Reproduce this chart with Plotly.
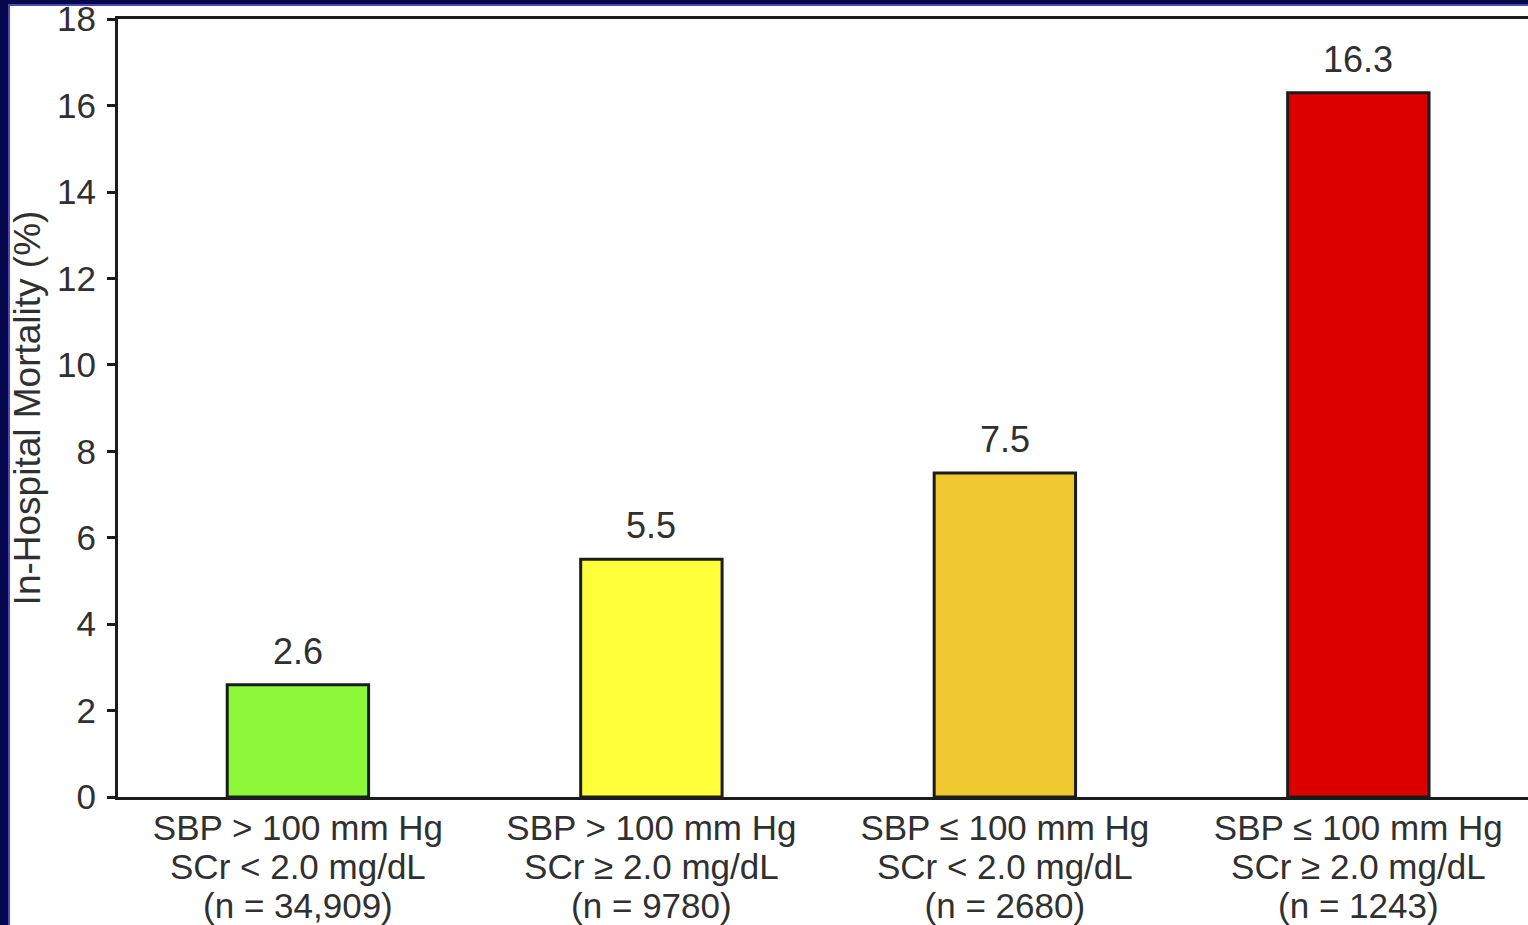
import plotly.graph_objects as go

# In-hospital mortality by admission SBP / SCr group
sbp_lines = ["SBP > 100 mm Hg", "SBP > 100 mm Hg", "SBP \u2264 100 mm Hg", "SBP \u2264 100 mm Hg"]
scr_lines = ["SCr < 2.0 mg/dL", "SCr \u2265 2.0 mg/dL", "SCr < 2.0 mg/dL", "SCr \u2265 2.0 mg/dL"]
n_lines = ["(n = 34,909)", "(n = 9780)", "(n = 2680)", "(n = 1243)"]
mortality = [2.6, 5.5, 7.5, 16.3]
bar_colors = ["#8df83a", "#ffff3a", "#f0c930", "#dd0000"]
y_ticks = [0, 2, 4, 6, 8, 10, 12, 14, 16, 18]

W, H = 1528, 925
ML, MR, MT, MB = 118, 0, 19, 128
FONT = "Liberation Sans, Arial, sans-serif"
TXT = "#303030"

positions = list(range(len(mortality)))
tick_text = [
    "<br>".join(f"<span style='font-size:35px'>{s}</span>" for s in (a, b, c))
    for a, b, c in zip(sbp_lines, scr_lines, n_lines)
]

fig = go.Figure(
    go.Bar(
        x=positions,
        y=mortality,
        width=0.4,
        marker=dict(color=bar_colors, line=dict(color="#1c1c1c", width=3)),
        hoverinfo="skip",
    )
)

# value labels above each bar
for xp, v in zip(positions, mortality):
    fig.add_annotation(
        x=xp, y=v, text=f"{v:.1f}", showarrow=False, yanchor="bottom", yshift=11,
        font=dict(family=FONT, size=36, color=TXT),
    )

# paper-coordinate helpers for pixel placement of the frame
pw, ph = W - ML - MR, H - MT - MB
def px_x(p):
    return (p - ML) / pw
def px_y(p):
    return (H - MB - p) / ph

# dark blue slide border on the left and top
navy = "#07074e"
edge = "#4a4ab4"
fig.add_shape(type="rect", xref="paper", yref="paper", x0=px_x(-5), x1=px_x(8),
              y0=px_y(H + 5), y1=px_y(-5), fillcolor=navy, line_width=0, layer="above")
fig.add_shape(type="rect", xref="paper", yref="paper", x0=px_x(-5), x1=px_x(W + 5),
              y0=px_y(4), y1=px_y(-5), fillcolor=navy, line_width=0, layer="above")
fig.add_shape(type="line", xref="paper", yref="paper", x0=px_x(9), x1=px_x(9),
              y0=px_y(H + 5), y1=px_y(4), line=dict(color=edge, width=2), layer="above")
fig.add_shape(type="line", xref="paper", yref="paper", x0=px_x(8), x1=px_x(W + 5),
              y0=px_y(5), y1=px_y(5), line=dict(color=edge, width=2), layer="above")

fig.update_layout(
    width=W, height=H,
    margin=dict(l=ML, r=MR, t=MT, b=MB, pad=0),
    paper_bgcolor="white", plot_bgcolor="white",
    showlegend=False,
    font=dict(family=FONT, color=TXT),
    xaxis=dict(
        range=[-0.509, 3.48], tickmode="array", tickvals=positions, ticktext=tick_text,
        tickfont=dict(family=FONT, size=30, color=TXT),
        ticklabelstandoff=4,
        showline=True, linecolor="#1c1c1c", linewidth=3, mirror=True,
        ticks="", showgrid=False, zeroline=False, fixedrange=True,
    ),
    yaxis=dict(
        range=[0, 18.005], tickmode="array", tickvals=y_ticks,
        tickfont=dict(family=FONT, size=35, color=TXT),
        ticks="outside", ticklen=8, tickwidth=3, tickcolor="#1c1c1c",
        ticklabelstandoff=4, ticklabeloverflow="allow",
        showline=True, linecolor="#1c1c1c", linewidth=3, mirror=False,
        showgrid=False, zeroline=False, fixedrange=True,
        title=dict(text="In-Hospital Mortality (%)", standoff=6,
                   font=dict(family=FONT, size=37, color=TXT)),
    ),
)

fig.write_html("out.html")
